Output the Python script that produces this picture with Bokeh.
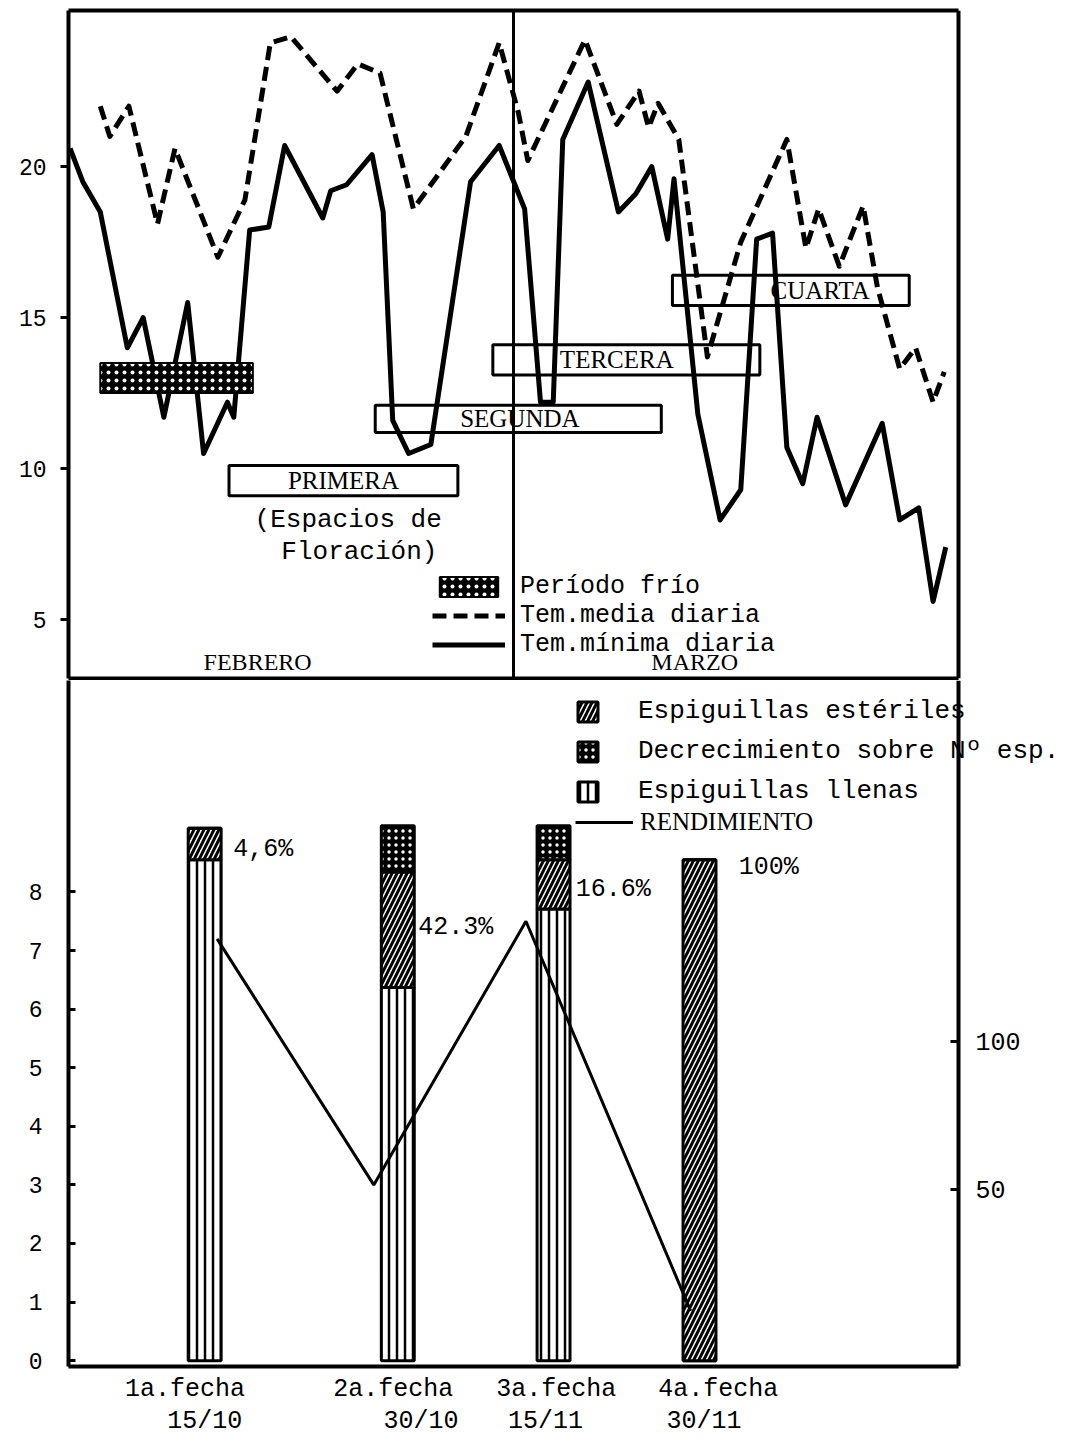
from bokeh.plotting import figure
from bokeh.models import (Range1d, LinearAxis, FixedTicker, Legend, LegendItem,
                          Span, ColumnDataSource)
from bokeh.layouts import column
from bokeh.core.properties import value
from bokeh.embed import file_html
from bokeh.resources import INLINE

# ---------------- top panel data (days from 1 Feb; 28 = 1 Mar) ----------------
tmin_day = [0.1, 0.9, 2.0, 3.7, 4.7, 6.0, 7.5, 8.5, 10.0, 10.4, 11.4, 12.6, 13.6,
            16.0, 16.5, 17.5, 19.1, 19.8, 20.4, 21.4, 22.8, 25.3, 27.1, 28.7,
            29.7, 30.5, 31.1, 32.7, 34.6, 35.7, 36.7, 37.7, 38.1, 39.6, 41.0,
            42.3, 43.3, 44.3, 45.2, 46.2, 47.1, 48.9, 51.2, 52.3, 53.5, 54.4, 55.2]
tmin = [20.6, 19.5, 18.5, 14.0, 15.0, 11.7, 15.5, 10.5, 12.2, 11.7, 17.9, 18.0, 20.7,
        18.3, 19.2, 19.4, 20.4, 18.5, 11.6, 10.5, 10.8, 19.5, 20.7, 18.6,
        12.2, 12.2, 20.9, 22.8, 18.5, 19.1, 20.0, 17.6, 19.6, 11.8, 8.3,
        9.3, 17.6, 17.8, 10.7, 9.5, 11.7, 8.8, 11.5, 8.3, 8.7, 5.6, 7.4]
tmed_day = [2.0, 2.6, 3.8, 5.6, 6.7, 9.4, 11.1, 12.7, 14.0, 16.9, 18.2, 19.6, 21.7,
            25.0, 27.1, 28.3, 28.9, 32.5, 34.5, 35.9, 36.5, 37.1, 38.4, 40.2,
            42.3, 45.2, 46.4, 47.2, 48.5, 50.0, 50.9, 52.3, 53.3, 54.4, 55.1]
tmed = [22.0, 21.0, 22.0, 18.1, 20.6, 17.0, 18.9, 24.1, 24.3, 22.5, 23.4, 23.1, 18.6,
        21.0, 24.1, 21.8, 20.2, 24.2, 21.4, 22.5, 21.3, 22.1, 20.9, 13.7,
        17.5, 20.9, 17.3, 18.6, 16.7, 18.7, 16.0, 13.3, 14.0, 12.2, 13.2]

periods = ["PRIMERA", "SEGUNDA", "TERCERA", "CUARTA"]
period_start = [10.1, 19.3, 26.7, 38.0]
period_end = [24.5, 37.3, 43.5, 52.9]
period_low = [9.1, 11.2, 13.1, 15.4]
period_high = [10.1, 12.1, 14.1, 16.4]
period_label_x = [17.3, 28.4, 34.5, 47.3]

cold_start, cold_end = [2.0], [11.6]
cold_low, cold_high = [12.5], [13.5]

months = ["FEBRERO", "MARZO"]
month_x = [11.9, 39.4]
month_split = 28
days_shown = 56
temp_ticks = [5, 10, 15, 20]

# ---------------- bottom panel data ----------------
fechas = ["1a.fecha", "2a.fecha", "3a.fecha", "4a.fecha"]
dates = ["15/10", "30/10", "15/11", "30/11"]
bar_x = [1.53, 3.70, 5.45, 7.09]
llenas = [8.55, 6.37, 7.71, 0.0]
esteriles = [0.54, 1.97, 0.84, 8.55]
decrec = [0.0, 0.79, 0.58, 0.0]
pct_labels = ["4,6%", "42.3%", "16.6%", "100%"]
pct_x = [1.85, 3.93, 5.70, 7.53]
pct_y = [8.72, 7.39, 8.05, 8.42]
rend_x = [1.67, 3.43, 5.14, 6.99]
rendimiento = [7.2, 3.0, 7.5, 0.85]
fecha_label_x = [1.31, 3.65, 5.48, 7.30]
date_label_x = [1.53, 3.96, 5.36, 7.14]
left_ticks = [0, 1, 2, 3, 4, 5, 6, 7, 8]
right_ticks = [50, 100]
panel_right_x = 10

MONO = "Liberation Mono"
SERIF = "Liberation Serif"
W = 1071
FRAME_SCALE = (W - 68) / 890.0   # full-width frame vs. drawn box


def border_axis(bounds):
    ax = LinearAxis(ticker=FixedTicker(ticks=[]), bounds=bounds)
    ax.axis_line_color = "black"
    ax.axis_line_width = 4
    ax.major_tick_in = 0
    ax.major_tick_out = 0
    ax.minor_tick_in = 0
    ax.minor_tick_out = 0
    ax.major_label_standoff = 0
    return ax


# ================= TOP FIGURE =================
top = figure(width=W, height=680, x_range=Range1d(0, days_shown * FRAME_SCALE),
             y_range=Range1d(3.05, 25.17),
             x_axis_location=None, output_backend="svg", toolbar_location=None,
             min_border_left=68, min_border_right=0, min_border_top=10, min_border_bottom=2)
top.grid.visible = False
top.outline_line_color = None

ya = top.yaxis[0]
ya.ticker = FixedTicker(ticks=temp_ticks)
ya.axis_line_color = "black"
ya.axis_line_width = 4
ya.major_tick_out = 8
ya.major_tick_in = 0
ya.major_tick_line_width = 3
ya.minor_tick_line_color = None
ya.major_label_text_font = MONO
ya.major_label_text_font_size = "23px"
ya.major_label_text_color = "black"
ya.major_label_standoff = 14

top.add_layout(border_axis((0, days_shown)), "above")
top.add_layout(border_axis((0, days_shown)), "below")
top.add_layout(Span(location=days_shown, dimension="height", line_color="black", line_width=4))
top.add_layout(Span(location=month_split, dimension="height", line_color="black", line_width=3))

r_med = top.line(tmed_day, tmed, line_color="black", line_width=5, line_dash="14 7",
                 line_join="round")
r_min = top.line(tmin_day, tmin, line_color="black", line_width=5, line_join="round")

top.quad(left=period_start, right=period_end, bottom=period_low, top=period_high,
         fill_alpha=0, line_color="black", line_width=3)
top.text(x=period_label_x, y=[(a + b) / 2 for a, b in zip(period_low, period_high)],
         text=periods, text_align="center", text_baseline="middle",
         text_font=value(SERIF), text_font_size="25px", text_color="black")

r_cold = top.quad(left=cold_start, right=cold_end, bottom=cold_low, top=cold_high,
                  fill_color="black", hatch_pattern="dot", hatch_color="white",
                  hatch_scale=8, hatch_weight=2, line_color="black", line_width=2)

top.text(x=[17.6, 18.3], y=[8.3, 7.25], text=["(Espacios de", "Floración)"],
         text_align="center", text_baseline="middle", text_font=value(MONO),
         text_font_size="26px", text_color="black")
top.text(x=month_x, y=[3.6, 3.6], text=months, text_align="center",
         text_baseline="middle", text_font=value(SERIF), text_font_size="24px",
         text_color="black")

leg_top = Legend(items=[LegendItem(label="Período frío", renderers=[r_cold]),
                        LegendItem(label="Tem.media diaria", renderers=[r_med]),
                        LegendItem(label="Tem.mínima diaria", renderers=[r_min])],
                 location=(364, 19), glyph_width=73, glyph_height=25, label_height=25,
                 spacing=0, label_standoff=15, padding=0, margin=0,
                 border_line_color=None, background_fill_alpha=0,
                 label_text_font=MONO, label_text_font_size="25px",
                 label_text_color="black")
top.add_layout(leg_top)

# ================= BOTTOM FIGURE =================
bot = figure(width=W, height=758, x_range=Range1d(0, panel_right_x * FRAME_SCALE),
             y_range=Range1d(-0.1, 11.61),
             x_axis_location=None, output_backend="svg", toolbar_location=None,
             min_border_left=68, min_border_right=0, min_border_top=0, min_border_bottom=63)
bot.grid.visible = False
bot.outline_line_color = None
bot.extra_y_ranges = {"rend": Range1d(-10, 222.3)}

la = bot.yaxis[0]
la.ticker = FixedTicker(ticks=left_ticks)
la.axis_line_color = "black"
la.axis_line_width = 4
la.major_tick_in = 7
la.major_tick_out = 0
la.major_tick_line_width = 3
la.minor_tick_line_color = None
la.major_label_text_font = MONO
la.major_label_text_font_size = "23px"
la.major_label_text_color = "black"
la.major_label_standoff = 26

ra = LinearAxis(y_range_name="rend", ticker=FixedTicker(ticks=right_ticks),
                fixed_location=panel_right_x)
ra.axis_line_color = "black"
ra.axis_line_width = 4
ra.major_tick_in = 8
ra.major_tick_out = 0
ra.major_tick_line_width = 3
ra.minor_tick_line_color = None
ra.major_label_text_font = MONO
ra.major_label_text_font_size = "25px"
ra.major_label_text_color = "black"
ra.major_label_standoff = 17
bot.add_layout(ra, "right")

ax1 = LinearAxis(ticker=FixedTicker(ticks=fecha_label_x),
                 major_label_overrides={k: v for k, v in zip(fecha_label_x, fechas)},
                 bounds=(0, panel_right_x))
ax2 = LinearAxis(ticker=FixedTicker(ticks=date_label_x),
                 major_label_overrides={k: v for k, v in zip(date_label_x, dates)})
for ax, so in ((ax1, 8), (ax2, 0)):
    ax.axis_line_color = None
    ax.major_tick_line_color = None
    ax.minor_tick_line_color = None
    ax.major_tick_in = 0
    ax.major_tick_out = 0
    ax.major_label_standoff = so
    ax.major_label_text_font = MONO
    ax.major_label_text_font_size = "25px"
    ax.major_label_text_color = "black"
    bot.add_layout(ax, "below")
ax1.axis_line_color = "black"
ax1.axis_line_width = 4

src = ColumnDataSource(dict(x=bar_x, llenas=llenas, esteriles=esteriles, decrec=decrec))
bars = bot.vbar_stack(["llenas", "esteriles", "decrec"], x="x", width=0.37, source=src,
                      fill_color=["white", "white", "black"],
                      hatch_pattern=["vertical_line", "right_diagonal_line", "dot"],
                      hatch_color=["black", "black", "white"],
                      hatch_scale=[8, 10, 7], hatch_weight=[2.5, 3, 1.5],
                      line_color="black", line_width=3)

bot.text(x=pct_x, y=pct_y, text=pct_labels, text_align="left", text_baseline="middle",
         text_font=value(MONO), text_font_size="25px", text_color="black")

r_rend = bot.line(rend_x, rendimiento, line_color="black", line_width=3)

leg_b1 = Legend(items=[LegendItem(label="Espiguillas estériles", renderers=[bars[1]]),
                       LegendItem(label="Decrecimiento sobre Nº esp.", renderers=[bars[2]]),
                       LegendItem(label="Espiguillas llenas", renderers=[bars[0]])],
                location=(507, 560), glyph_width=25, glyph_height=25, label_height=25,
                spacing=10, label_standoff=38, padding=0, margin=0,
                border_line_color=None, background_fill_alpha=0,
                label_text_font=MONO, label_text_font_size="26px",
                label_text_color="black")
leg_b2 = Legend(items=[LegendItem(label="RENDIMIENTO", renderers=[r_rend])],
                location=(507, 530), glyph_width=58, glyph_height=20, label_height=24,
                spacing=0, label_standoff=7, padding=0, margin=0,
                border_line_color=None, background_fill_alpha=0,
                label_text_font=SERIF, label_text_font_size="25px",
                label_text_color="black")
bot.add_layout(leg_b1)
bot.add_layout(leg_b2)

layout = column(top, bot, spacing=0)
open("out.html", "w").write(file_html(layout, INLINE))
